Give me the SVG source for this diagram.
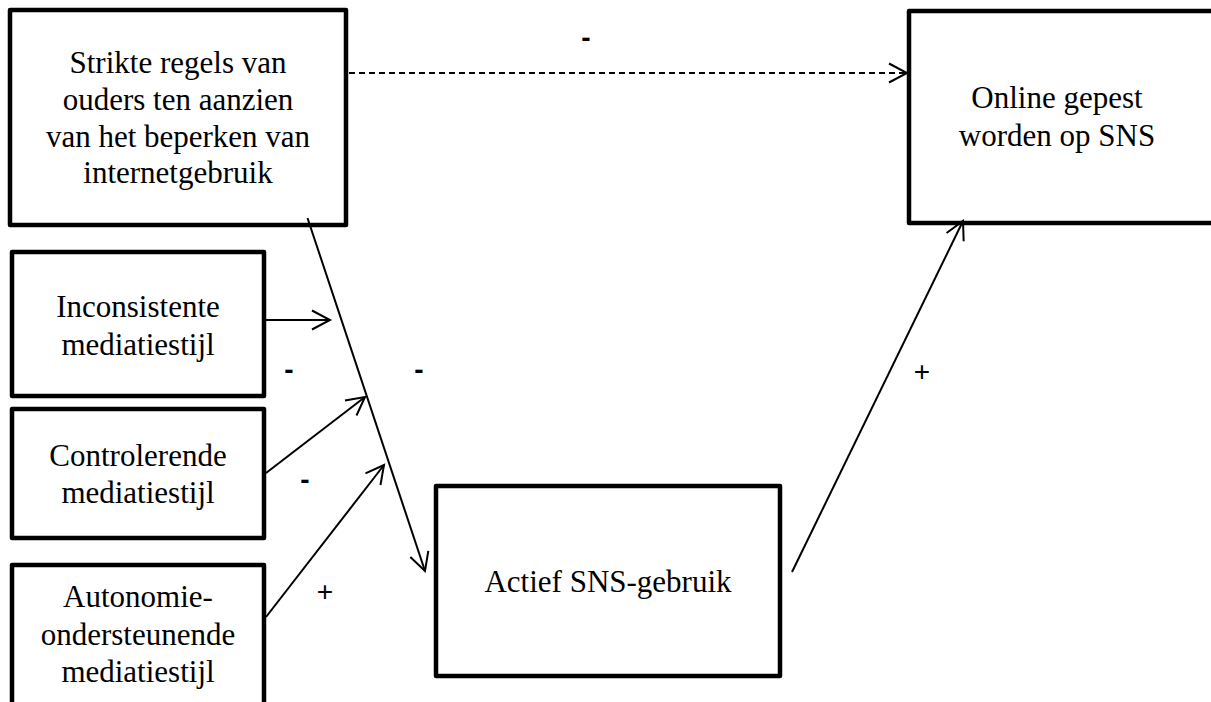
<svg xmlns="http://www.w3.org/2000/svg" width="1211" height="702" viewBox="0 0 1211 702">
<style>
.box{fill:#fff;stroke:#000;stroke-width:4.5;stroke-linejoin:round}
.t{font-family:"Liberation Serif","Times New Roman",serif;font-size:31px;fill:#000;text-anchor:middle}
.c{fill:none;stroke:#000;stroke-width:2}
.d{stroke-dasharray:6 4}
.s{font-family:"Liberation Sans",Arial,sans-serif;font-size:28px;fill:#000;text-anchor:middle}
.b{font-weight:bold}
</style>
<defs>
<marker id="ah" markerUnits="userSpaceOnUse" markerWidth="24" markerHeight="24" refX="20" refY="12" orient="auto" viewBox="0 0 24 24">
<path d="M2,2.5 L20,12 L2,21.5" fill="none" stroke="#000" stroke-width="2"/>
</marker>
</defs>
<g id="n-strikte">
<rect class="box" x="10" y="10" width="336" height="215"/>
<text class="t" x="178" y="73">Strikte regels van</text>
<text class="t" x="178" y="110">ouders ten aanzien</text>
<text class="t" x="178" y="147">van het beperken van</text>
<text class="t" x="178" y="183">internetgebruik</text>
</g>
<g id="n-online">
<rect class="box" x="909" y="11" width="310" height="212"/>
<text class="t" x="1057" y="108">Online gepest</text>
<text class="t" x="1057" y="146">worden op SNS</text>
</g>
<g id="n-inconsistente">
<rect class="box" x="12" y="252" width="252" height="144"/>
<text class="t" x="138" y="317">Inconsistente</text>
<text class="t" x="138" y="355">mediatiestijl</text>
</g>
<g id="n-controlerende">
<rect class="box" x="12" y="409" width="252" height="129"/>
<text class="t" x="138" y="466">Controlerende</text>
<text class="t" x="138" y="503">mediatiestijl</text>
</g>
<g id="n-autonomie">
<rect class="box" x="12" y="565" width="252" height="145"/>
<text class="t" x="138" y="607">Autonomie-</text>
<text class="t" x="138" y="645">ondersteunende</text>
<text class="t" x="138" y="682">mediatiestijl</text>
</g>
<g id="n-actief">
<rect class="box" x="436" y="486" width="344" height="190"/>
<text class="t" x="608" y="592">Actief SNS-gebruik</text>
</g>
<g id="connectors">
<line class="c d" x1="349" y1="73" x2="907" y2="73" marker-end="url(#ah)"/>
<line class="c" x1="307.5" y1="218" x2="425" y2="571" marker-end="url(#ah)"/>
<line class="c" x1="264" y1="320" x2="330" y2="320" marker-end="url(#ah)"/>
<line class="c" x1="266" y1="473" x2="365" y2="397" marker-end="url(#ah)"/>
<line class="c" x1="266" y1="617" x2="384" y2="465" marker-end="url(#ah)"/>
<line class="c" x1="792" y1="572" x2="963" y2="221" marker-end="url(#ah)"/>
</g>
<g id="labels">
<text class="s b" x="586" y="47">-</text>
<text class="s b" x="289" y="379">-</text>
<text class="s b" x="419" y="379">-</text>
<text class="s b" x="305" y="489">-</text>
<text class="s" x="325" y="601">+</text>
<text class="s" x="922" y="381">+</text>
</g>
</svg>
